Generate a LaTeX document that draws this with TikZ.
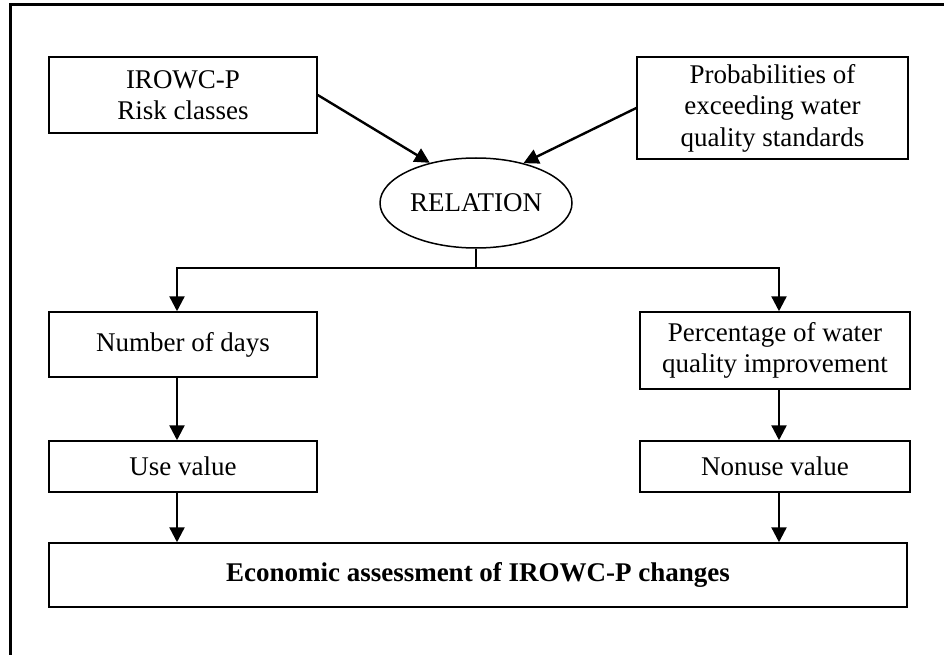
\documentclass[tikz,border=0pt]{standalone}
\usepackage{fontspec}
\setmainfont{Liberation Serif}
\usetikzlibrary{arrows.meta,shapes.geometric}
\begin{document}
\begin{tikzpicture}[x=1pt,y=-1pt,
  every node/.style={font=\fontsize{27}{31.5}\selectfont, align=center, inner sep=0pt},
  box/.style={draw, line width=1.5pt, rectangle},
  oval/.style={draw, line width=1.5pt, ellipse},
  arr/.style={line width=2.4pt, -{Triangle[length=15pt,width=15pt]}},
  link/.style={line width=2.4pt}]
\useasboundingbox (0,0) rectangle (944,655);
% outer frame
\draw[line width=3pt] (944,5) -- (10,5) -- (10,655);

% inputs
\node[box, minimum width=268pt, minimum height=76pt] (risk) at (183,95) {IROWC-P\\Risk classes};
\node[box, minimum width=271pt, minimum height=102pt] (prob) at (772.5,108) {Probabilities of\\exceeding water\\quality standards};
\node[oval, minimum width=192pt, minimum height=90pt] (rel) at (476,203) {RELATION};

% two branches
\node[box, minimum width=268pt, minimum height=65pt] (days) at (183,344.5) {Number of days};
\node[box, minimum width=270pt, minimum height=77pt] (pct) at (775,350.5) {Percentage of water\\quality improvement};
\node[box, minimum width=268pt, minimum height=51pt] (use) at (183,466.5) {Use value};
\node[box, minimum width=270pt, minimum height=51pt] (nonuse) at (775,466.5) {Nonuse value};

% result
\node[box, minimum width=858pt, minimum height=64pt, font={\fontsize{27}{31.5}\selectfont\bfseries}] (econ) at (478,575) {Economic assessment of IROWC-P changes};

% connectors
\coordinate (split) at (476,268);
\coordinate (colL) at (177,0);
\coordinate (colR) at (779,0);
\draw[arr] (risk.east) -- (rel.139);
\draw[arr] (prob.west) -- (rel.40);
\draw[link] (rel.south) -- (split);
\draw[arr] (split) -| (colL |- days.north);
\draw[arr] (split) -| (colR |- pct.north);
\draw[arr] (colL |- days.south) -- (colL |- use.north);
\draw[arr] (colR |- pct.south) -- (colR |- nonuse.north);
\draw[arr] (colL |- use.south) -- (colL |- econ.north);
\draw[arr] (colR |- nonuse.south) -- (colR |- econ.north);
\end{tikzpicture}
\end{document}
